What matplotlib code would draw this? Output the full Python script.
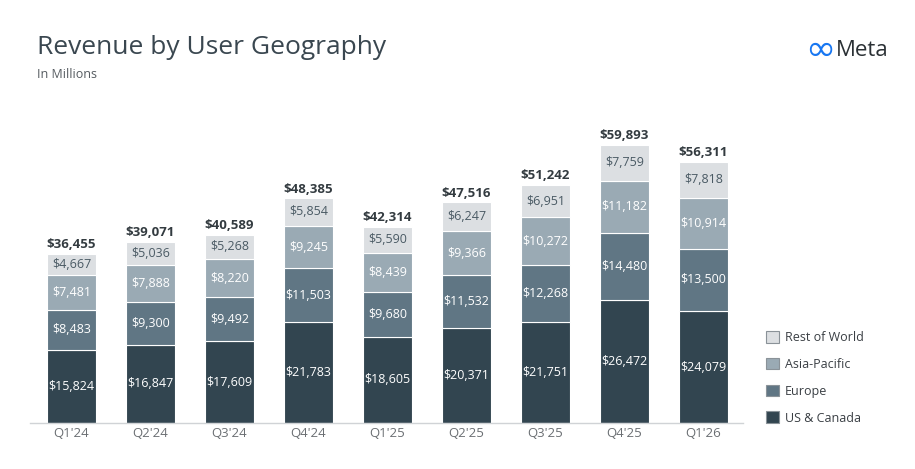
import matplotlib
matplotlib.use("Agg")
import matplotlib.pyplot as plt
from matplotlib.patches import Patch

quarters = ["Q1'24", "Q2'24", "Q3'24", "Q4'24", "Q1'25", "Q2'25", "Q3'25", "Q4'25", "Q1'26"]
us_canada = [15824, 16847, 17609, 21783, 18605, 20371, 21751, 26472, 24079]
europe = [8483, 9300, 9492, 11503, 9680, 11532, 12268, 14480, 13500]
asia_pacific = [7481, 7888, 8220, 9245, 8439, 9366, 10272, 11182, 10914]
rest_of_world = [4667, 5036, 5268, 5854, 5590, 6247, 6951, 7759, 7818]
totals = [36455, 39071, 40589, 48385, 42314, 47516, 51242, 59893, 56311]

series_names = ["US & Canada", "Europe", "Asia-Pacific", "Rest of World"]
series = [us_canada, europe, asia_pacific, rest_of_world]
colors = ["#324550", "#607684", "#9aaab4", "#dcdfe2"]
text_colors = ["white", "white", "white", "#4a5a64"]

plt.rcParams['font.family'] = ['Open Sans', 'DejaVu Sans']

W, H = 915, 469
fig = plt.figure(figsize=(W / 100, H / 100), dpi=100)
ax_left, ax_right = 30, 743
ax_bottom = H - 423
ymax = 65000
ax_h = ymax * 0.004642
ax = fig.add_axes([ax_left / W, ax_bottom / H, (ax_right - ax_left) / W, ax_h / H])

x = list(range(len(quarters)))
bottoms = [0] * len(quarters)
for vals, name, col, tc in zip(series, series_names, colors, text_colors):
    ax.bar(x, vals, bottom=bottoms, width=0.62, color=col, edgecolor="white",
           linewidth=0.8, label=name)
    for xi, v, b in zip(x, vals, bottoms):
        ax.text(xi, b + v / 2, f"${v:,}", ha="center", va="center", color=tc, fontsize=9)
    bottoms = [b + v for b, v in zip(bottoms, vals)]

for xi, t in zip(x, totals):
    ax.annotate(f"${t:,}", (xi, t), xytext=(0, 2), textcoords="offset points",
                ha="center", va="bottom", fontsize=9.5, fontweight="bold", color="#333b40")

ax.set_xlim(-0.525, 8.5)
ax.set_ylim(0, ymax)
ax.set_xticks(x)
ax.set_xticklabels(quarters, fontsize=9.5, color="#6b6f73")
ax.tick_params(axis="x", length=0, pad=3)
ax.set_yticks([])
for s in ["top", "right", "left"]:
    ax.spines[s].set_visible(False)
ax.spines["bottom"].set_color("#d0d3d6")
ax.spines["bottom"].set_linewidth(1)

handles = [Patch(facecolor=c, edgecolor="#8a9298", linewidth=0.8) for c in colors][::-1]
fig.legend(handles, series_names[::-1], loc="upper left",
           bbox_to_anchor=(766 / W, 1 - 331 / H), frameon=False, fontsize=9,
           labelcolor="#3a3f44", handlelength=1.05, handleheight=1.05,
           handletextpad=0.45, labelspacing=1.1, borderpad=0, borderaxespad=0)

fig.text(37 / W, 1 - 48 / H, "Revenue by User Geography", fontsize=19, color="#3a4750",
         va="center", ha="left")
fig.text(37 / W, 1 - 74 / H, "In Millions", fontsize=9, color="#555b60",
         va="center", ha="left")
fig.text(805 / W, 1 - 50 / H, "\u221e", fontsize=26, color="#1877f2", va="center",
         ha="left", family="DejaVu Sans")
fig.text(836 / W, 1 - 50 / H, "Meta", fontsize=16, color="#2b3135", va="center", ha="left")

fig.savefig("out.png", dpi=100, facecolor="white")
